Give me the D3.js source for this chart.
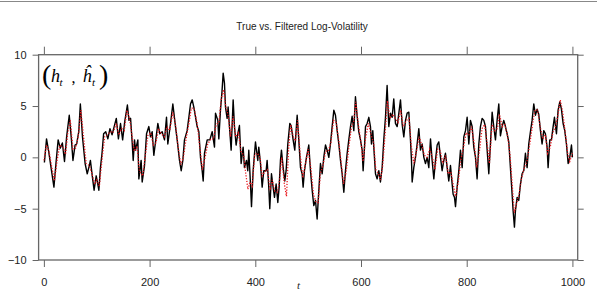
<!DOCTYPE html>
<html>
<head>
<meta charset="utf-8">
<script src="https://cdn.jsdelivr.net/npm/d3@7"></script>
<style>
  body { margin: 0; background: #fff; }
  svg { display: block; font-family: "Liberation Sans", Arial, sans-serif; }
</style>
</head>
<body>
<div id="chart"></div>
<script>
// true log-volatility h_t as [t, value]
const trueH = [
  [1,-0.5],[5,1.8],[9,0.6],[13,-0.8],[19,-2.9],[23,-0.5],[27,1.7],[31,0.9],[35,1.4],[39,-0.4],
  [43,2.0],[48,4.1],[52,1.8],[55,-0.3],[59,1.2],[62,1.3],[66,2.5],[69,5.2],[73,2.0],[78,-0.6],
  [82,-1.6],[86,-0.8],[88,-0.3],[92,-2.0],[95,-3.2],[99,-1.8],[102,-2.6],[104,-3.2],[107,-1.0],[110,0.4],
  [113,2.3],[117,2.5],[121,1.8],[125,2.8],[129,2.2],[133,3.0],[137,3.8],[141,1.8],[145,3.3],[149,1.7],
  [153,3.5],[158,5.1],[161,3.6],[164,3.8],[167,1.5],[169,-0.3],[171.5,1.7],[173.4,0.7],[177.8,1.7],[179.7,-2.1],
  [184,-0.3],[186,-2.4],[190.4,-0.8],[194.2,2.3],[198.6,3.0],[201.7,2.0],[204.9,2.5],[208,0.2],[211.2,1.5],[215.6,3.3],
  [219.4,2.3],[223.8,2.5],[228.2,1.7],[232,3.9],[234.5,1.3],[239.6,3.3],[244,5.2],[249,3.0],[252.2,1.7],[256.6,-0.3],
  [259.8,-1.3],[262.9,-0.3],[266,1.7],[271,2.6],[274.3,3.9],[277.4,5.2],[280.6,5.6],[283.7,4.9],[290,3.0],[293.2,2.5],
  [296.3,0.0],[299.5,-1.3],[301.4,-2.3],[303.9,0.4],[309,1.7],[314,1.7],[318.4,2.5],[322.8,1.0],[324.7,4.3],[329.1,3.6],
  [331,1.8],[334.1,4.6],[337,6.4],[339.2,8.2],[341.7,7.2],[343.6,4.9],[346.7,3.8],[348.6,4.9],[351.1,3.0],[354.3,0.7],
  [358.1,5.6],[360.6,3.0],[363.7,1.2],[366.9,2.3],[370,3.1],[373.2,-0.6],[377,1.0],[379.5,-1.0],[383.3,-0.3],[385.8,-1.3],
  [387.7,0.7],[390.9,-2.6],[392.8,-4.8],[395.9,-1.3],[400.3,1.5],[404.7,-0.3],[406.6,1.0],[409.8,-0.6],[413,-2.9],[416.1,-1.3],
  [420.5,-1.3],[422.4,-0.3],[425.5,-2.9],[427.4,-5.0],[430.6,-1.6],[433.7,-2.9],[436.3,-3.9],[439.4,-2.6],[442.6,-4.4],[445.1,-2.9],
  [447.6,-0.3],[449.5,0.7],[452.7,-1.0],[455.8,-2.3],[458.3,-1.3],[461.5,1.3],[465.3,3.3],[467.8,3.1],[471.6,1.7],[474.7,0.7],
  [479.2,4.1],[482.3,1.7],[485.5,-1.0],[488.6,-1.6],[490.5,-2.9],[493,-1.3],[496.8,0.0],[501.2,1.2],[504.4,-1.3],[507.6,-3.2],
  [510.7,-4.7],[513.9,-4.2],[517,-6.0],[520.2,-3.2],[523.3,-0.6],[526.5,-1.6],[529.6,0.0],[532.8,1.2],[535.9,0.7],[539.1,0.0],
  [542.2,1.3],[545.4,3.0],[548.6,4.6],[551.7,4.1],[554.9,2.6],[558,1.3],[561.2,-0.3],[564.3,-1.6],[567.5,-3.4],[570.6,-1.3],
  [573.8,0.4],[576.9,1.7],[580.1,3.0],[583.2,4.0],[586.4,2.6],[589.5,5.9],[592.7,4.0],[595.8,2.5],[599,1.7],[602.2,0.7],
  [604,-1.3],[606.6,1.0],[608.5,3.0],[611.6,3.3],[614.8,3.9],[617.9,3.0],[619.8,1.3],[622.3,2.6],[624.2,1.0],[627.4,-1.6],
  [630.5,-2.1],[633.7,-1.3],[636.8,-2.4],[640,-1.0],[643.1,1.7],[646.3,3.9],[649.4,7.0],[652.6,3.0],[655.7,4.3],[658.9,3.9],
  [662,5.7],[665.2,3.3],[668.4,3.0],[671.6,4.3],[674.7,5.6],[677.9,3.2],[681,2.0],[684.2,3.6],[687.3,4.3],[690.5,4.4],
  [693.6,1.7],[695.5,-0.3],[696.8,-2.4],[699.9,-1.0],[703.1,0.0],[706.2,1.3],[709.4,2.8],[712.5,0.7],[715.7,1.3],[718.9,0.0],
  [722,-0.6],[725.2,0.0],[728.3,-1.0],[731.5,1.8],[734.6,-0.3],[737.8,-2.1],[740.9,-0.3],[744.1,1.2],[747.2,1.5],[750.4,0.0],
  [753.5,-1.3],[756.7,-0.3],[759.8,0.4],[763,-1.0],[766.1,-2.3],[769.3,-0.8],[771.2,-1.9],[774.3,-3.6],[776.9,-3.9],[778.8,-4.8],
  [781.9,-2.9],[785.1,-1.3],[788.2,0.7],[791.4,-1.0],[794.5,2.0],[797.7,2.6],[800.8,3.9],[804,1.3],[807.1,3.6],[810.3,3.0],
  [813.4,1.0],[816.6,0.0],[819.7,-2.1],[822.9,1.3],[826,3.0],[829.2,3.8],[832.4,3.6],[835.5,3.0],[838.7,0.7],[841.8,-1.6],
  [844.9,1.3],[848.1,4.4],[851.2,3.0],[854.4,1.7],[857.5,3.6],[860.7,5.2],[863.8,2.1],[867,3.0],[870.1,3.6],[873.3,3.0],
  [876.4,2.3],[879.6,1.5],[882.7,-1.0],[885.9,-3.6],[887.8,-5.2],[890.3,-6.8],[892.2,-5.2],[895.4,-3.9],[898.5,-4.2],[901.7,-2.6],
  [904.8,-1.6],[908,-1.3],[911.1,0.4],[914.3,-1.0],[917.4,1.3],[920.6,2.5],[923.7,3.6],[926.9,5.2],[930,4.1],[933.2,4.7],
  [936.3,4.2],[939.5,2.6],[942.6,1.3],[945.8,2.6],[948.9,2.3],[952.1,1.0],[954,-1.0],[957.2,1.7],[960.3,1.7],[963.5,3.0],
  [966,3.9],[969.8,2.3],[972.9,4.6],[976.1,5.4],[979.2,4.7],[982.4,3.3],[985.5,2.6],[988.7,1.3],[991.9,-0.6],[995,0.0],
  [998.2,1.2],[1000,0.0]
];

// filtered estimate h-hat_t
const filteredH = [
  [0,-0.3],[5,1.2],[10,0.5],[15,-1.0],[20,-2.3],[25,-0.3],[30,1.2],[36,1.0],[41,0.3],[45,2.3],
  [50,3.6],[55,0.8],[60,0.9],[65,2.0],[70,4.6],[75,2.0],[80,-0.6],[86,-0.8],[91,-1.6],[96,-2.6],
  [100,-2.2],[105,-2.8],[110,-0.2],[115,2.0],[120,2.2],[126,2.5],[131,2.4],[137,3.3],[142,2.2],[147,2.8],
  [152,2.6],[157,4.6],[162,3.8],[167,2.0],[171,0.6],[176,1.1],[181,-1.4],[187,-1.8],[192,0.2],[197,2.2],
  [202,2.4],[207,1.2],[212,1.4],[217,2.8],[222,2.3],[228,2.0],[233,3.0],[238,2.6],[244,4.4],[249,3.2],
  [254,1.0],[259,-0.7],[264,0.0],[269,1.8],[274,3.2],[279,4.8],[284,4.8],[290,3.3],[295,1.0],[300,-1.2],
  [305,0.0],[310,1.3],[316,1.8],[321,1.8],[326,3.2],[331,3.4],[336,5.8],[340,6.6],[344,5.0],[349,4.0],
  [353,2.0],[358,4.0],[363,2.0],[368,2.4],[373,0.6],[378,0.2],[382,-1.6],[386,-3.1],[390,-2.4],[394,-2.8],
  [399,0.3],[404,0.4],[409,0.0],[413,-1.8],[418,-1.4],[423,-1.2],[428,-3.2],[432,-2.2],[437,-3.3],[442,-3.4],
  [446,-2.2],[450,0.0],[455,-2.6],[459,-3.8],[463,0.8],[467,3.2],[472,2.0],[476,1.6],[480,3.6],[485,0.2],
  [490,-2.0],[495,-0.6],[500,0.8],[505,-1.0],[510,-3.6],[515,-4.4],[519,-4.4],[523,-1.6],[528,-0.8],[533,0.6],
  [538,0.6],[543,1.4],[548,3.6],[553,3.4],[558,1.6],[563,-0.8],[567,-2.6],[572,-1.4],[577,1.0],[582,3.0],
  [586,3.4],[590,5.4],[595,3.2],[600,1.4],[604,-0.4],[609,2.0],[614,3.3],[619,2.2],[624,1.4],[628,-1.2],
  [633,-1.6],[637,-2.2],[641,-0.8],[646,2.6],[650,5.5],[655,3.8],[660,4.2],[665,3.8],[670,3.4],[675,4.6],
  [680,3.0],[686,3.6],[691,3.8],[695,1.2],[700,-0.6],[705,0.6],[710,2.0],[715,1.2],[720,0.2],[725,0.0],
  [730,0.8],[735,0.0],[740,-1.2],[745,0.8],[750,0.6],[755,-0.6],[760,0.2],[765,-1.6],[770,-1.4],[775,-2.8],
  [779,-3.8],[784,-2.4],[789,-0.2],[794,1.0],[799,2.4],[804,2.2],[809,3.0],[814,1.4],[819,-1.0],[824,0.6],
  [829,2.8],[834,3.2],[839,1.2],[843,-0.6],[848,3.2],[853,2.6],[858,2.8],[862,4.2],[867,3.0],[872,3.2],
  [877,2.2],[882,0.2],[886,-2.6],[890,-5.4],[894,-4.6],[899,-3.6],[904,-2.0],[909,-1.0],[914,-0.4],[919,1.2],
  [924,3.0],[929,4.6],[934,4.6],[939,3.0],[944,1.8],[949,2.2],[953,0.4],[958,1.0],[963,2.4],[968,3.0],
  [973,4.2],[977,5.6],[981,4.6],[986,2.6],[991,0.4],[995,-0.4],[1000,0.4]
];

const xTicks = [0, 200, 400, 600, 800, 1000];
const yTicks = [-10, -5, 0, 5, 10];

const W = 597, H = 299;
const frame = { left: 38.6, right: 577.7, top: 54.7, bottom: 260 };
const axisColor = "#666";

const svg = d3.select("#chart")
    .append("svg")
    .attr("width", W)
    .attr("height", H);

// thin rule along the very top of the picture
svg.append("line")
    .attr("x1", 0).attr("x2", W)
    .attr("y1", 1.5).attr("y2", 1.5)
    .style("stroke", "#888")
    .style("stroke-width", 1);

const x = d3.scaleLinear()
    .domain([-10, 1010])
    .range([frame.left, frame.right]);

const y = d3.scaleLinear()
    .domain([-10, 10])
    .range([frame.bottom, frame.top]);

// axes: ticks outward on all four sides, labels on bottom and left only
svg.append("g")
    .attr("transform", `translate(0,${frame.bottom})`)
    .call(d3.axisBottom(x).tickValues(xTicks).tickFormat(d3.format("d"))
        .tickSize(7).tickPadding(11).tickSizeOuter(0));

svg.append("g")
    .attr("transform", `translate(0,${frame.top})`)
    .call(d3.axisTop(x).tickValues(xTicks).tickSize(8).tickFormat("").tickSizeOuter(0));

svg.append("g")
    .attr("transform", `translate(${frame.left},0)`)
    .call(d3.axisLeft(y).tickValues(yTicks).tickSize(6).tickPadding(6).tickSizeOuter(0));

svg.append("g")
    .attr("transform", `translate(${frame.right},0)`)
    .call(d3.axisRight(y).tickValues(yTicks).tickSize(6).tickFormat("").tickSizeOuter(0));

svg.selectAll(".domain").remove();
svg.selectAll(".tick line").style("stroke", axisColor).style("stroke-width", 1);
svg.selectAll(".tick text")
    .style("font-size", "11px")
    .style("font-family", "'Liberation Sans', Arial, sans-serif")
    .style("fill", "#222");

svg.append("rect")
    .attr("x", frame.left)
    .attr("y", frame.top)
    .attr("width", frame.right - frame.left)
    .attr("height", frame.bottom - frame.top)
    .style("fill", "none")
    .style("stroke", axisColor)
    .style("stroke-width", 1.3);

const line = d3.line()
    .x(d => x(d[0]))
    .y(d => y(d[1]));

svg.append("path")
    .datum(trueH)
    .attr("d", line)
    .style("fill", "none")
    .style("stroke", "#000")
    .style("stroke-width", 1.4)
    .style("stroke-linejoin", "round");

svg.append("path")
    .datum(filteredH)
    .attr("d", line)
    .style("fill", "none")
    .style("stroke", "#e8141b")
    .style("stroke-width", 1.3)
    .style("stroke-dasharray", "1.2,1.6");

// title
svg.append("text")
    .attr("x", 302)
    .attr("y", 30)
    .attr("text-anchor", "middle")
    .style("font-size", "10px")
    .style("fill", "#222")
    .text("True vs. Filtered Log-Volatility");

// x axis label
svg.append("text")
    .attr("x", 298.5)
    .attr("y", 288.5)
    .attr("text-anchor", "middle")
    .style("font-family", "'Liberation Serif', 'Times New Roman', serif")
    .style("font-style", "italic")
    .style("font-size", "11px")
    .style("fill", "#222")
    .text("t");

// (h_t , h-hat_t) label
const lab = svg.append("g")
    .style("font-family", "'Liberation Serif', 'Times New Roman', serif")
    .style("fill", "#000");

lab.append("text").attr("x", 42).attr("y", 84).style("font-size", "28px").text("(");
lab.append("text").attr("x", 51).attr("y", 82).style("font-size", "18px").style("font-style", "italic").text("h");
lab.append("text").attr("x", 59.5).attr("y", 85.5).style("font-size", "11px").style("font-style", "italic").text("t");
lab.append("text").attr("x", 71.5).attr("y", 83).style("font-size", "16px").text(",");
lab.append("text").attr("x", 82.5).attr("y", 82).style("font-size", "18px").style("font-style", "italic").text("\u0125");
lab.append("text").attr("x", 92).attr("y", 85.5).style("font-size", "11px").style("font-style", "italic").text("t");
lab.append("text").attr("x", 99).attr("y", 84).style("font-size", "28px").text(")");
</script>
</body>
</html>
